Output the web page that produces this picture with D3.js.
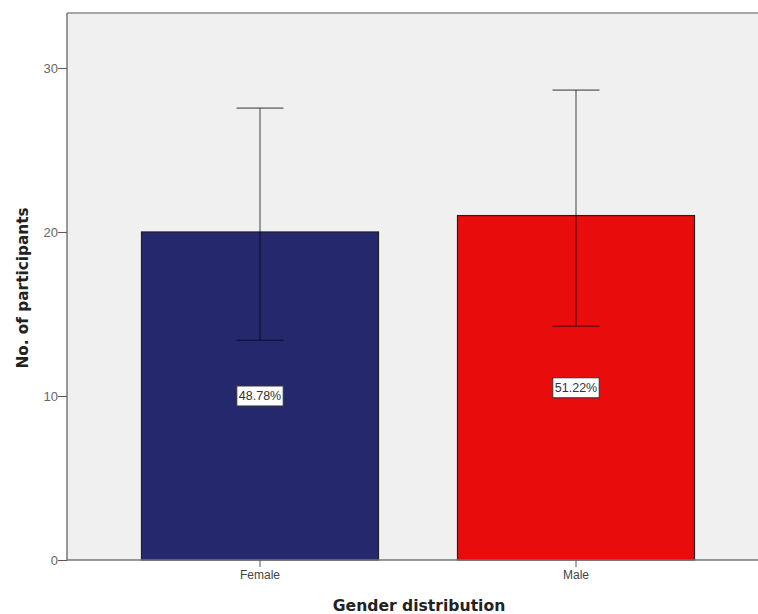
<!DOCTYPE html>
<html>
<head>
<meta charset="utf-8">
<script src="https://cdn.jsdelivr.net/npm/d3@7"></script>
<style>
html,body{margin:0;padding:0;background:#fff;overflow:hidden;}
svg{display:block;}
</style>
</head>
<body>
<svg id="chart" width="758" height="614"></svg>
<script>
const categories = ["Female", "Male"];
const counts = [20, 21];
const ciLower = [13.4, 14.25];
const ciUpper = [27.55, 28.65];
const percentLabels = ["48.78%", "51.22%"];
const barColors = ["#26286e", "#e80c0c"];
const yTicks = [0, 10, 20, 30];

(function () {
const svg = d3.select("#chart");
const pLeft = 67, pTop = 13, pRight = 770, pBottom = 560;
const sans = "Arial, 'Liberation Sans', sans-serif";
const titleFont = "'DejaVu Sans', Verdana, sans-serif";

const y = d3.scaleLinear().domain([0, 33.35]).range([pBottom, pTop]);
const x = d3.scaleBand().domain(categories).range([102, 734]).paddingInner(0.25).paddingOuter(0.125);

// plot background
svg.append("rect").attr("x", pLeft).attr("y", pTop).attr("width", pRight - pLeft).attr("height", pBottom - pTop)
  .attr("fill", "#f0f0f0");

// bars
svg.selectAll("rect.bar").data(categories).enter().append("rect")
  .attr("class", "bar")
  .attr("x", d => x(d))
  .attr("y", (d, i) => y(counts[i]))
  .attr("width", x.bandwidth())
  .attr("height", (d, i) => y(0) - y(counts[i]))
  .attr("fill", (d, i) => barColors[i])
  .attr("stroke", "#222")
  .attr("stroke-width", 1.2);

// error bars
const eb = svg.append("g").attr("stroke", "#000").attr("stroke-opacity", 0.45).attr("stroke-width", 1.6);
categories.forEach((c, i) => {
  const cx = x(c) + x.bandwidth() / 2;
  eb.append("line").attr("x1", cx).attr("x2", cx).attr("y1", y(ciUpper[i])).attr("y2", y(ciLower[i]));
  eb.append("line").attr("x1", cx - 23.5).attr("x2", cx + 23.5).attr("y1", y(ciUpper[i])).attr("y2", y(ciUpper[i]));
  eb.append("line").attr("x1", cx - 23.5).attr("x2", cx + 23.5).attr("y1", y(ciLower[i])).attr("y2", y(ciLower[i]));
});

// percent labels
categories.forEach((c, i) => {
  const cx = x(c) + x.bandwidth() / 2;
  const cy = y(counts[i] / 2);
  const g = svg.append("g");
  const t = g.append("text").attr("x", cx).attr("y", cy + 4.5).attr("text-anchor", "middle")
    .attr("font-family", sans).attr("font-size", 12.5).attr("fill", "#333")
    .text(percentLabels[i]);
  const bb = t.node().getBBox();
  g.insert("rect", "text").attr("x", bb.x - 2).attr("y", cy - 10).attr("width", bb.width + 4).attr("height", 20)
    .attr("fill", "#fff").attr("stroke", "#333").attr("stroke-width", 1);
});

// frame
svg.append("line").attr("x1", pLeft).attr("x2", pRight).attr("y1", pTop).attr("y2", pTop).attr("stroke", "#8c8c8c").attr("stroke-width", 1.5);

// y axis
const yAxis = svg.append("g").attr("transform", `translate(${pLeft},0)`)
  .call(d3.axisLeft(y).tickValues(yTicks).tickSize(9).tickFormat(d3.format("d")));
yAxis.select(".domain").attr("stroke", "#777").attr("stroke-width", 1.5).attr("d", `M0,${pTop}V${pBottom}`);
yAxis.selectAll(".tick line").attr("stroke", "#555");
yAxis.selectAll(".tick text").attr("font-family", sans).attr("font-size", 13).attr("fill", "#666").attr("x", -9);

// x axis
const xAxis = svg.append("g").attr("transform", `translate(0,${pBottom})`)
  .call(d3.axisBottom(x).tickSize(7));
xAxis.select(".domain").attr("stroke", "#777").attr("stroke-width", 1.5).attr("d", `M${pLeft},0H${pRight}`);
xAxis.selectAll(".tick line").attr("stroke", "#555");
xAxis.selectAll(".tick text").attr("font-family", sans).attr("font-size", 12).attr("fill", "#444").attr("dy", "0.9em").attr("y", 8);

// axis titles
svg.append("text").attr("x", 419).attr("y", 611).attr("text-anchor", "middle")
  .attr("font-family", titleFont).attr("font-size", 15.6).attr("font-weight", "bold").attr("fill", "#222")
  .text("Gender distribution");
svg.append("text").attr("transform", "translate(28,288) rotate(-90)").attr("text-anchor", "middle")
  .attr("font-family", titleFont).attr("font-size", 15.3).attr("font-weight", "bold").attr("fill", "#222")
  .text("No. of participants");
})();
</script>
</body>
</html>
